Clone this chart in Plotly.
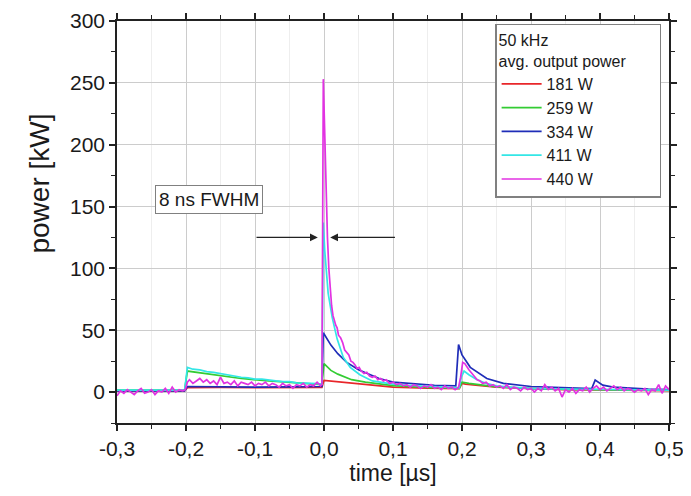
import plotly.graph_objects as go

# ---------------- data ----------------
x_tick_vals = [-0.3, -0.2, -0.1, 0.0, 0.1, 0.2, 0.3, 0.4, 0.5]
x_tick_text = ["-0,3", "-0,2", "-0,1", "0,0", "0,1", "0,2", "0,3", "0,4", "0,5"]

series_names = ["181 W", "259 W", "334 W", "411 W", "440 W"]

t_red = [-0.3, -0.25, -0.202, -0.198, -0.15, -0.1, -0.05, -0.003, 0.0, 0.02, 0.05, 0.1, 0.15,
         0.196, 0.2, 0.205, 0.25, 0.3, 0.35, 0.4, 0.45, 0.5]
p_red = [1.0, 1.2, 1.0, 3.5, 3.8, 3.5, 3.6, 3.8, 9.5, 8.5, 6.5, 4.0, 3.2,
         2.8, 7.0, 6.5, 4.0, 2.8, 2.0, 1.8, 1.5, 1.2]

t_green = [-0.3, -0.25, -0.202, -0.198, -0.18, -0.15, -0.12, -0.08, -0.04, -0.003, 0.0, 0.005,
           0.01, 0.02, 0.03, 0.04, 0.06, 0.08, 0.1, 0.15, 0.196, 0.2, 0.21, 0.25, 0.3, 0.35,
           0.4, 0.45, 0.5]
p_green = [1.5, 1.8, 1.5, 17.0, 15.5, 13.0, 11.0, 9.0, 7.2, 6.0, 23.0, 20.0,
           17.5, 14.5, 12.0, 10.0, 8.0, 6.5, 5.2, 3.8, 3.0, 8.0, 7.0, 4.2, 2.8, 2.2,
           2.0, 1.6, 1.4]

t_blue = [-0.3, -0.25, -0.202, -0.198, -0.15, -0.1, -0.05, -0.003, -0.001, 0.003, 0.01, 0.02,
          0.033, 0.05, 0.067, 0.08, 0.1, 0.13, 0.16, 0.191, 0.195, 0.2, 0.212, 0.236, 0.26,
          0.3, 0.35, 0.388, 0.393, 0.404, 0.419, 0.443, 0.47, 0.5]
p_blue = [1.0, 1.0, 1.0, 4.5, 4.2, 4.0, 4.2, 4.5, 48.0, 44.0, 38.0, 31.0,
          24.0, 18.0, 14.0, 11.0, 8.0, 6.5, 5.5, 5.0, 38.5, 30.0, 20.0, 11.0, 7.0,
          4.5, 3.2, 2.8, 9.7, 5.6, 4.0, 3.2, 2.5, 2.0]

t_cyan = [-0.3, -0.25, -0.202, -0.198, -0.19, -0.18, -0.17, -0.16, -0.15, -0.14, -0.13, -0.12,
          -0.11, -0.10, -0.09, -0.08, -0.07, -0.06, -0.05, -0.04, -0.03, -0.02, -0.01, -0.003,
          -0.001, 0.001, 0.006, 0.012, 0.019, 0.028, 0.038, 0.052, 0.07, 0.085, 0.1, 0.12,
          0.15, 0.175, 0.196, 0.199, 0.203, 0.21, 0.22, 0.235, 0.25, 0.27, 0.3, 0.35, 0.4,
          0.45, 0.5]
p_cyan = [1.5, 1.8, 1.5, 20.0, 18.5, 18.0, 16.5, 16.0, 15.0, 13.5, 13.0, 12.0,
          11.5, 10.5, 10.5, 9.5, 9.0, 8.5, 8.5, 7.5, 7.5, 7.0, 6.8, 6.5,
          137.0, 115.0, 80.0, 60.0, 43.0, 28.0, 20.0, 14.0, 9.0, 7.5, 6.5, 5.5,
          4.5, 4.0, 3.5, 12.0, 17.0, 14.0, 10.5, 7.0, 5.0, 4.0, 3.0, 2.5, 2.0,
          1.8, 1.5]

t_mag = [-0.300, -0.295, -0.290, -0.285, -0.280, -0.275, -0.270, -0.265, -0.260, -0.255,
         -0.250, -0.245, -0.240, -0.235, -0.230, -0.225, -0.220, -0.215, -0.210, -0.205,
         -0.201, -0.198, -0.195, -0.190, -0.185, -0.180, -0.175, -0.170, -0.165, -0.160,
         -0.155, -0.150, -0.145, -0.140, -0.135, -0.130, -0.125, -0.120, -0.115, -0.110,
         -0.105, -0.100, -0.095, -0.090, -0.085, -0.080, -0.075, -0.070, -0.065, -0.060,
         -0.055, -0.050, -0.045, -0.040, -0.035, -0.030, -0.025, -0.020, -0.015, -0.010,
         -0.005, -0.003, -0.001, 0.001, 0.003, 0.005, 0.007, 0.009, 0.011, 0.013,
         0.015, 0.017, 0.019, 0.021, 0.024, 0.027, 0.030, 0.033, 0.036, 0.039,
         0.042, 0.045, 0.048, 0.051, 0.054, 0.058, 0.062, 0.066, 0.070, 0.074,
         0.078, 0.082, 0.086, 0.090, 0.095, 0.100, 0.105, 0.110, 0.115, 0.120,
         0.125, 0.130, 0.135, 0.140, 0.145, 0.150, 0.155, 0.160, 0.165, 0.170,
         0.175, 0.180, 0.185, 0.190, 0.195, 0.198, 0.201, 0.204, 0.207, 0.210,
         0.213, 0.216, 0.219, 0.222, 0.226, 0.230, 0.235, 0.240, 0.245, 0.250,
         0.255, 0.260, 0.265, 0.270, 0.275, 0.280, 0.285, 0.290, 0.295, 0.300,
         0.305, 0.310, 0.315, 0.320, 0.325, 0.330, 0.335, 0.340, 0.345, 0.350,
         0.355, 0.360, 0.365, 0.370, 0.375, 0.380, 0.385, 0.390, 0.395, 0.400,
         0.405, 0.410, 0.415, 0.420, 0.425, 0.430, 0.435, 0.440, 0.445, 0.450,
         0.455, 0.460, 0.465, 0.470, 0.475, 0.480, 0.485, 0.490, 0.495, 0.500]
p_mag = [-3, 1, -1, 2, 0, -2, 1, 3, -1, 0,
         2, -2, 1, 0, 3, -1, 4, 0, 2, 1,
         2, 8, 10, 7, 9, 11, 8, 10, 7, 9,
         6, 12, 7, 8, 6, 9, 5, 8, 7, 6,
         8, 5, 7, 6, 8, 5, 7, 6, 4, 7,
         5, 6, 3, 6, 5, 7, 4, 6, 5, 8,
         5, 6, 253, 205, 160, 125, 100, 82, 70, 62,
         57, 54, 52, 46, 44, 40, 34, 32, 30, 25,
         24, 22, 19, 20, 17, 15, 16, 13, 12, 13,
         10, 11, 9, 10, 7, 8, 6, 7, 5, 6,
         4, 6, 5, 3, 5, 4, 6, 3, 4, 2,
         5, 3, 4, 2, 4, 12, 24, 23, 20, 18,
         16, 14, 12, 10, 9, 7, 8, 5, 6, 4,
         5, 3, 6, 2, 4, 3, 1, 4, 2, 3,
         0, 3, 1, 6, 2, 4, 1, 3, -4, 2,
         0, 3, -1, 2, 1, 4, 0, 3, 5, 2,
         4, 1, 3, 5, 2, 4, 1, 3, 2, 0,
         2, 1, 3, -2, 2, 1, 6, -1, 5, 2]

series_t = [t_red, t_green, t_blue, t_cyan, t_mag]
series_p = [p_red, p_green, p_blue, p_cyan, p_mag]
colors = ["#e8262a", "#33cc33", "#1f2db8", "#33e6e6", "#e232e2"]

fwhm_label = "8 ns FWHM"
fwhm_level = 125
fwhm_left = [-0.1, -0.009]
fwhm_right = [0.105, 0.009]

legend_title = "50 kHz<br>avg. output power" + "&nbsp;" * 7
y_title = "power [kW]"
x_title = "time [µs]"

# ---------------- figure ----------------
FONT = "Liberation Sans, Arial, sans-serif"
TXT = "#1a1a1a"
fig = go.Figure()
for name, t, p, c in zip(series_names, series_t, series_p, colors):
    fig.add_trace(go.Scatter(x=t, y=p, mode="lines", name=name,
                             line=dict(color=c, width=1.7)))

# page body adds an 8 px offset, so the figure is 8 px smaller than the window
fig.update_layout(
    width=683, height=488,
    margin=dict(l=109, r=22, t=13, b=73, autoexpand=False),
    paper_bgcolor="white", plot_bgcolor="white",
    font=dict(family=FONT, color=TXT),
    showlegend=True,
    legend=dict(
        x=0.685, y=0.993, xanchor="left", yanchor="top",
        bgcolor="white", bordercolor="#808080", borderwidth=1.5,
        font=dict(size=16, family=FONT, color=TXT),
        title=dict(text=legend_title, font=dict(size=16, family=FONT, color=TXT)),
        tracegroupgap=0, itemwidth=40,
    ),
)

fig.update_xaxes(
    range=[-0.3, 0.5], tickmode="array", tickvals=x_tick_vals, ticktext=x_tick_text,
    automargin=False, ticklabeloverflow="allow",
    ticks="outside", ticklen=6, tickwidth=1.5, tickcolor="#222",
    showline=True, linecolor="#222", linewidth=1.5, mirror="ticks",
    showgrid=True, gridcolor="#cccccc", gridwidth=1, zeroline=False,
    tickfont=dict(size=21, family=FONT, color=TXT),
    title=dict(text=x_title, font=dict(size=23, family=FONT, color=TXT), standoff=2),
    minor=dict(tickmode="linear", tick0=0, dtick=0.05, ticks="outside", ticklen=4,
               tickwidth=1.2, tickcolor="#222", showgrid=True, gridcolor="#eeeeee"),
)
fig.update_yaxes(
    range=[-25, 300], tick0=0, dtick=50,
    automargin=False, ticklabeloverflow="allow",
    ticks="outside", ticklen=6, tickwidth=1.5, tickcolor="#222",
    showline=True, linecolor="#222", linewidth=1.5, mirror="ticks",
    showgrid=True, gridcolor="#cccccc", gridwidth=1, zeroline=False,
    tickfont=dict(size=21, family=FONT, color=TXT),
    minor=dict(tickmode="linear", tick0=0, dtick=25, ticks="outside", ticklen=4,
               tickwidth=1.2, tickcolor="#222", showgrid=False),
)

# y-axis title (placed as in the reference, slightly above the plot centre)
fig.add_annotation(x=-0.14, y=0.595, xref="paper", yref="paper", text=y_title,
                   textangle=-90, showarrow=False, xanchor="center", yanchor="middle",
                   font=dict(size=28, family=FONT, color=TXT))

fig.add_annotation(x=-0.167, y=156, xref="x", yref="y", text=fwhm_label, showarrow=False,
                   font=dict(size=19, family=FONT, color=TXT),
                   bgcolor="white", bordercolor="#808080", borderwidth=1, borderpad=3)
for (tail, head) in [fwhm_left, fwhm_right]:
    fig.add_annotation(x=head, y=fwhm_level, ax=tail, ay=fwhm_level, xref="x", yref="y",
                       axref="x", ayref="y", text="", showarrow=True, arrowhead=2,
                       arrowsize=1.3, arrowwidth=1.2, arrowcolor="#222")

fig.write_html("out.html")
